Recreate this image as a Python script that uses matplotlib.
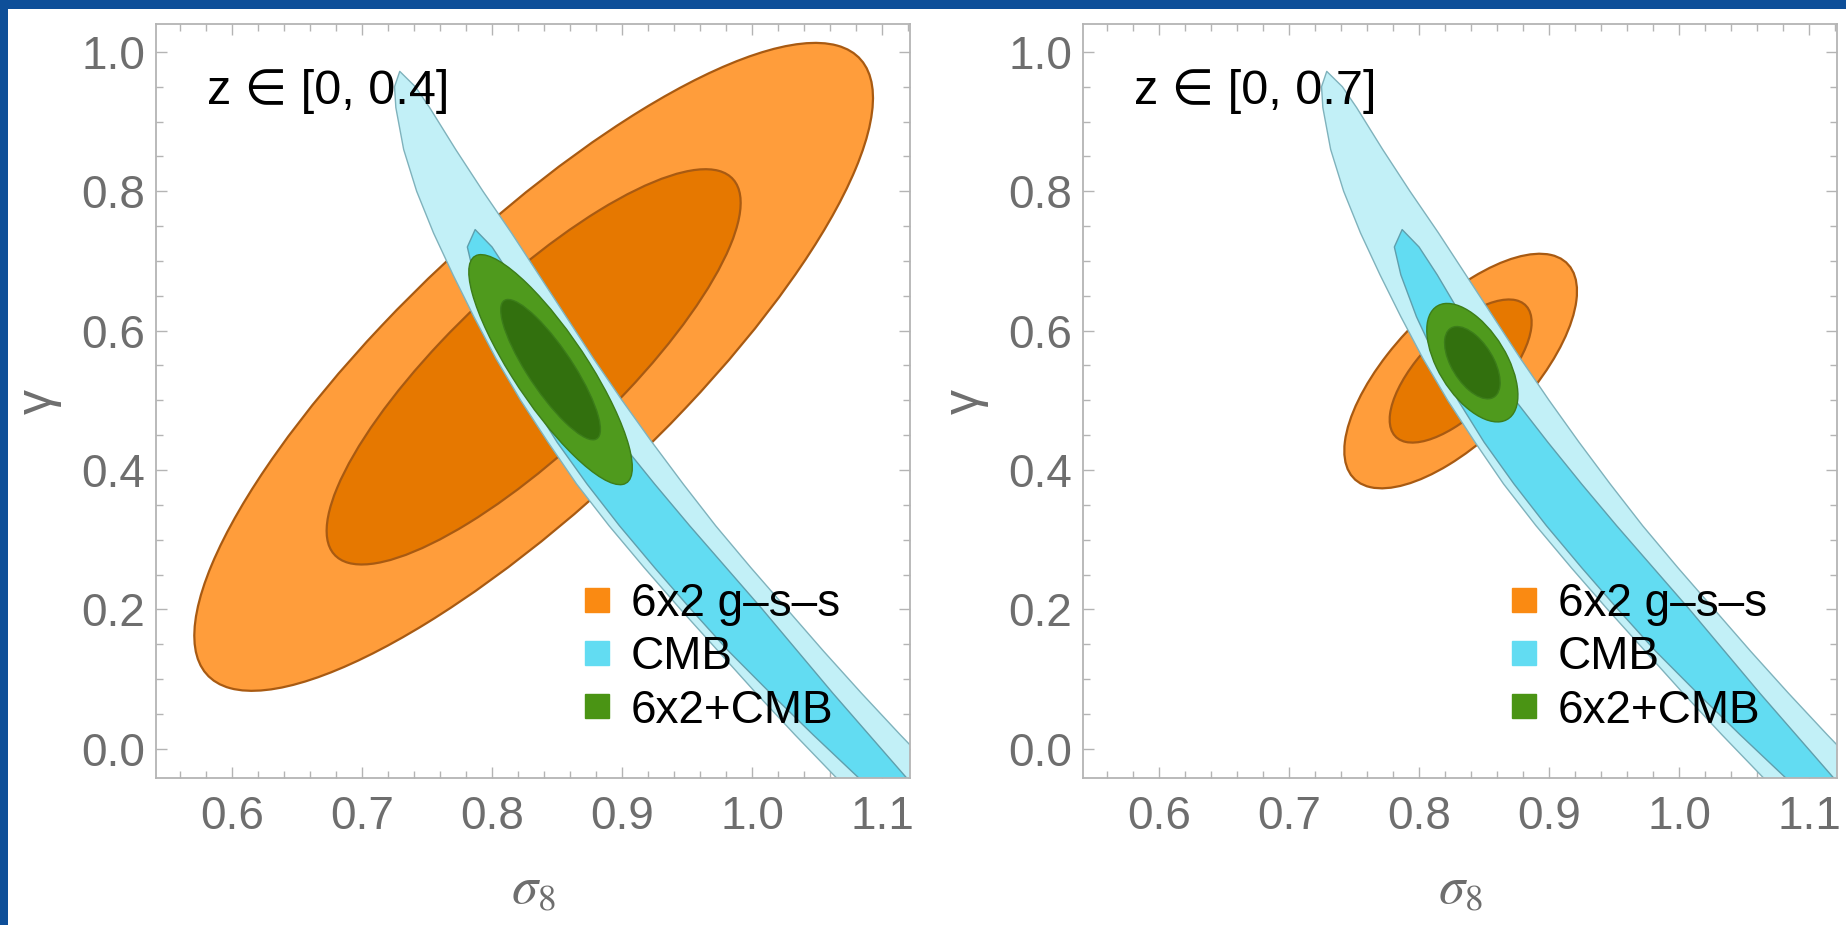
"""
Growth index gamma vs sigma_8 forecasts: 6x2 g-s-s, CMB and combined,
for two redshift ranges.
"""

import numpy as np
import matplotlib
matplotlib.use("Agg")
import matplotlib.pyplot as plt
from matplotlib.patches import Ellipse, Rectangle
from matplotlib.lines import Line2D
from matplotlib.ticker import MultipleLocator, FormatStrFormatter

# ── Data ──────────────────────────────────────
panel_titles = ["z ∈ [0, 0.4]", "z ∈ [0, 0.7]"]

# 6x2 g-s-s Fisher ellipses: centre, (sigma_s8, sigma_gamma), correlation
gss_center = [(0.832, 0.548), (0.832, 0.542)]
gss_sigma = [(0.105, 0.187), (0.036, 0.0677)]
gss_rho = [0.83, 0.68]

# 6x2 + CMB combined ellipses
comb_center = [(0.845, 0.544), (0.841, 0.554)]
comb_sigma = [(0.0253, 0.0664), (0.0141, 0.0342)]
comb_rho = [-0.85, -0.55]

# CMB banana (same in both panels): sigma_8 boundaries at given gamma levels
cmb_outer_gamma = [0.95, 0.92, 0.86, 0.80, 0.74, 0.68, 0.62, 0.56, 0.50,
                   0.44, 0.38, 0.32, 0.26, 0.20, 0.14, 0.08, 0.02, -0.04, -0.07]
cmb_outer_left = [0.725, 0.726, 0.732, 0.742, 0.755, 0.770, 0.786, 0.803, 0.822,
                  0.843, 0.865, 0.890, 0.917, 0.945, 0.974, 1.003, 1.033, 1.064, 1.080]
cmb_outer_right = [0.741, 0.752, 0.772, 0.793, 0.815, 0.836, 0.857, 0.878, 0.900,
                   0.923, 0.947, 0.972, 0.999, 1.027, 1.055, 1.084, 1.114, 1.145, 1.161]
cmb_outer_tip = (0.729, 0.972)

cmb_inner_gamma = [0.72, 0.68, 0.62, 0.56, 0.50, 0.44, 0.38, 0.32, 0.26,
                   0.20, 0.14, 0.08, 0.02, -0.04, -0.07]
cmb_inner_left = [0.781, 0.786, 0.798, 0.813, 0.830, 0.850, 0.873, 0.898, 0.925,
                  0.953, 0.982, 1.014, 1.047, 1.081, 1.098]
cmb_inner_right = [0.800, 0.814, 0.833, 0.853, 0.874, 0.899, 0.925, 0.952, 0.980,
                   1.008, 1.035, 1.062, 1.090, 1.118, 1.132]
cmb_inner_tip = (0.787, 0.745)

legend_labels = ["6x2 g–s–s", "CMB", "6x2+CMB"]
legend_colors = ["#FA8A12", "#62DCF2", "#4A9414"]

x_ticks = [0.6, 0.7, 0.8, 0.9, 1.0, 1.1]
y_ticks = [0.0, 0.2, 0.4, 0.6, 0.8, 1.0]

# ── Style ─────────────────────────────────────
CHI2 = [2.30, 6.18]  # 1 and 2 sigma for 2 parameters
ORANGE = ["#E67800", "#FF9D3B"]
CYAN = ["#62DCF2", "#C2F0F7"]
GREEN = ["#32700E", "#4F9A1D"]
TICK_GREY = "#6E6E6E"
FRAME_GREY = "#B4B4B4"
FONT = ["Liberation Sans", "DejaVu Sans"]

plt.rcParams["font.family"] = FONT


def fisher_ellipse(ax, center, sigma, rho, k, **kw):
    sx, sy = sigma
    cov = np.array([[sx**2, rho * sx * sy], [rho * sx * sy, sy**2]])
    vals, vecs = np.linalg.eigh(cov)
    angle = np.degrees(np.arctan2(vecs[1, 1], vecs[0, 1]))
    ax.add_patch(Ellipse(center, 2 * np.sqrt(k * vals[1]), 2 * np.sqrt(k * vals[0]),
                         angle=angle, **kw))


def band(ax, gam, left, right, tip, **kw):
    xs = list(left[::-1]) + [tip[0]] + list(right)
    ys = list(gam[::-1]) + [tip[1]] + list(gam)
    ax.fill(xs, ys, joinstyle="round", **kw)


fig = plt.figure(figsize=(18.46, 9.25), dpi=100)
fig.patch.set_facecolor("#0E4F99")
fig.add_artist(Rectangle((8 / 1846, 0), 1, 1 - 9 / 925, transform=fig.transFigure,
                         facecolor="white", edgecolor="none", zorder=-5))

for i, left_px in enumerate([156, 1083]):
    ax = fig.add_axes([left_px / 1846, 147 / 925, 754 / 1846, 754 / 925])

    # 6x2 g-s-s
    for lvl in (1, 0):
        fisher_ellipse(ax, gss_center[i], gss_sigma[i], gss_rho[i], CHI2[lvl],
                       facecolor=ORANGE[lvl], edgecolor="#A85A12", lw=1.6, zorder=1)
    # CMB
    band(ax, cmb_outer_gamma, cmb_outer_left, cmb_outer_right, cmb_outer_tip,
         facecolor=CYAN[1], edgecolor="#7FB2BC", lw=1.0, zorder=2)
    band(ax, cmb_inner_gamma, cmb_inner_left, cmb_inner_right, cmb_inner_tip,
         facecolor=CYAN[0], edgecolor="#5F9FAD", lw=1.0, zorder=2)
    # combined
    for lvl in (1, 0):
        fisher_ellipse(ax, comb_center[i], comb_sigma[i], comb_rho[i], CHI2[lvl],
                       facecolor=GREEN[lvl], edgecolor="#3C7D1A", lw=1.0, zorder=3)

    ax.set_xlim(0.5415, 1.1215)
    ax.set_ylim(-0.042, 1.040)
    ax.set_xticks(x_ticks)
    ax.set_yticks(y_ticks)
    ax.xaxis.set_minor_locator(MultipleLocator(0.02))
    ax.yaxis.set_minor_locator(MultipleLocator(0.05))
    ax.xaxis.set_major_formatter(FormatStrFormatter("%.1f"))
    ax.yaxis.set_major_formatter(FormatStrFormatter("%.1f"))
    ax.tick_params(which="both", direction="in", top=True, right=True,
                   color=FRAME_GREY, width=1.0, labelcolor=TICK_GREY, labelsize=33)
    ax.tick_params(which="major", length=8)
    ax.tick_params(which="minor", length=5)
    ax.tick_params(axis="x", pad=12)
    ax.tick_params(axis="y", pad=8)
    for sp in ax.spines.values():
        sp.set_color(FRAME_GREY)
        sp.set_linewidth(1.3)

    ax.set_xlabel(r"$\sigma_8$", fontsize=38, color=TICK_GREY, math_fontfamily="stix")
    ax.xaxis.set_label_coords(0.5, -0.115)
    ax.set_ylabel("γ", fontsize=36, color=TICK_GREY, rotation=90)
    ax.yaxis.set_label_coords(-0.125, 0.5)

    ax.text(0.581, 0.943, panel_titles[i], fontsize=35, color="black",
            va="center", ha="left", zorder=5)

    handles = [Line2D([], [], ls="", marker="s", markersize=17, color=c,
                      markeredgecolor=c) for c in legend_colors]
    ax.legend(handles, legend_labels, loc="center left", bbox_to_anchor=(0.566, 0.16),
              frameon=False, borderpad=0, borderaxespad=0, handlelength=0.6,
              handletextpad=0.45, labelspacing=0.2, fontsize=33)

fig.savefig("out.png", dpi=100, facecolor=fig.get_facecolor())
